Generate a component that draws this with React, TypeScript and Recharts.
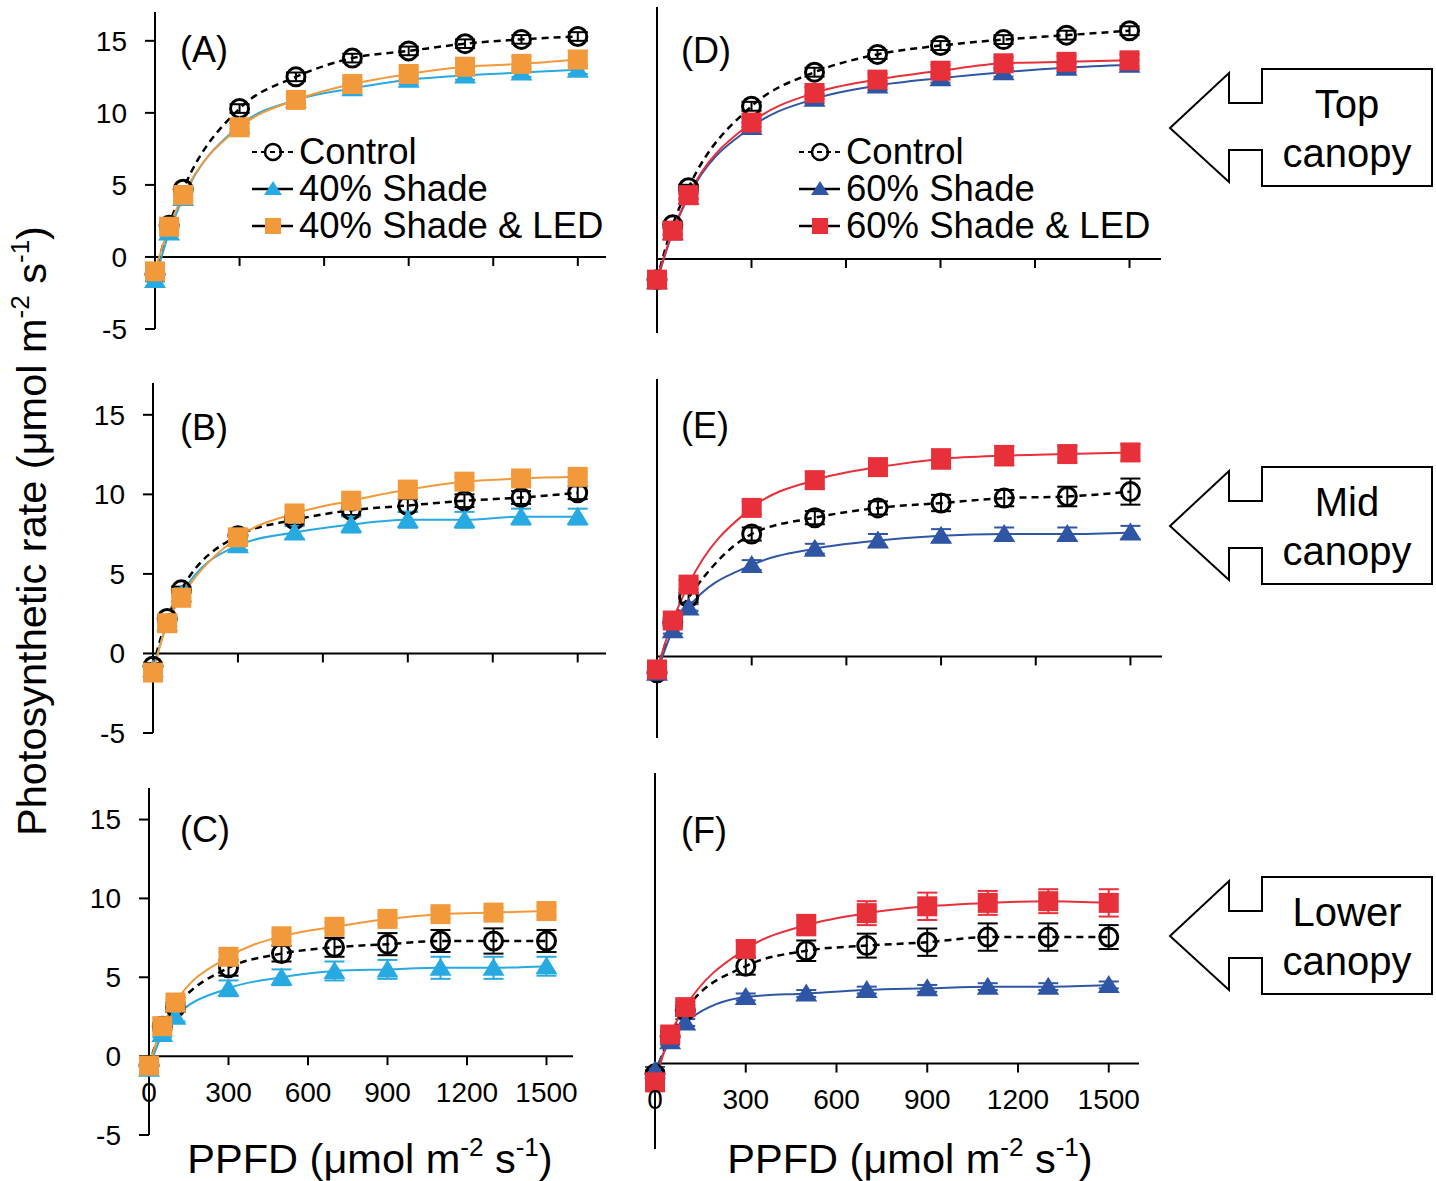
import React from 'react'
import { ComposedChart, Line, XAxis, YAxis, ReferenceLine, ErrorBar } from 'recharts'

const FONT = '"Liberation Sans", Arial, Helvetica, sans-serif'

const PPFD = [0, 50, 100, 300, 500, 700, 900, 1100, 1300, 1500]
const X_TICKS = [0, 300, 600, 900, 1200, 1500]
const Y_TICKS = [-5, 0, 5, 10, 15]

// (A) top canopy, 40% shade
const A_CONTROL = [-1.2, 2.2, 4.7, 10.3, 12.5, 13.8, 14.3, 14.8, 15.1, 15.3]
const A_CONTROL_ERR = [0.2, 0.2, 0.2, 0.3, 0.3, 0.3, 0.3, 0.3, 0.3, 0.3]
const A_SHADE = [-1.6, 1.7, 4.1, 9.1, 10.9, 11.7, 12.3, 12.6, 12.8, 13.0]
const A_SHADE_ERR = [0.1, 0.2, 0.2, 0.2, 0.2, 0.3, 0.3, 0.3, 0.3, 0.3]
const A_LED = [-1.0, 2.1, 4.3, 9.0, 10.9, 12.0, 12.7, 13.2, 13.4, 13.7]
const A_LED_ERR = [0.2, 0.2, 0.2, 0.3, 0.3, 0.4, 0.4, 0.5, 0.5, 0.6]

// (B) mid canopy, 40% shade
const B_CONTROL = [-0.8, 2.2, 4.0, 7.4, 8.4, 9.0, 9.3, 9.6, 9.8, 10.1]
const B_CONTROL_ERR = [0.2, 0.2, 0.2, 0.3, 0.3, 0.3, 0.4, 0.4, 0.4, 0.4]
const B_SHADE = [-1.0, 1.9, 3.7, 6.8, 7.6, 8.1, 8.4, 8.4, 8.6, 8.6]
const B_SHADE_ERR = [0.2, 0.2, 0.2, 0.3, 0.4, 0.5, 0.5, 0.5, 0.5, 0.5]
const B_LED = [-1.2, 1.9, 3.5, 7.3, 8.8, 9.6, 10.3, 10.8, 11.0, 11.1]
const B_LED_ERR = [0.2, 0.2, 0.2, 0.3, 0.3, 0.3, 0.3, 0.3, 0.3, 0.3]

// (C) lower canopy, 40% shade
const C_CONTROL = [-0.6, 1.9, 3.1, 5.6, 6.5, 6.9, 7.1, 7.3, 7.3, 7.3]
const C_CONTROL_ERR = [0.2, 0.2, 0.3, 0.5, 0.5, 0.6, 0.7, 0.7, 0.8, 0.7]
const C_SHADE = [-0.8, 1.4, 2.5, 4.3, 5.0, 5.4, 5.5, 5.6, 5.6, 5.7]
const C_SHADE_ERR = [0.2, 0.2, 0.3, 0.5, 0.5, 0.6, 0.6, 0.7, 0.7, 0.6]
const C_LED = [-0.6, 1.9, 3.4, 6.3, 7.6, 8.2, 8.7, 9.0, 9.1, 9.2]
const C_LED_ERR = [0.2, 0.2, 0.2, 0.3, 0.3, 0.3, 0.3, 0.3, 0.3, 0.3]

// (D) top canopy, 60% shade
const D_CONTROL = [-1.4, 2.3, 4.8, 10.3, 12.6, 13.8, 14.4, 14.8, 15.1, 15.4]
const D_CONTROL_ERR = [0.2, 0.2, 0.2, 0.3, 0.3, 0.3, 0.3, 0.3, 0.3, 0.3]
const D_SHADE = [-1.5, 1.8, 4.2, 8.9, 10.8, 11.7, 12.2, 12.6, 12.9, 13.1]
const D_SHADE_ERR = [0.2, 0.2, 0.2, 0.3, 0.3, 0.3, 0.3, 0.3, 0.3, 0.3]
const D_LED = [-1.4, 1.9, 4.3, 9.2, 11.2, 12.1, 12.7, 13.2, 13.3, 13.4]
const D_LED_ERR = [0.2, 0.2, 0.2, 0.3, 0.4, 0.4, 0.4, 0.4, 0.4, 0.4]

// (E) mid canopy, 60% shade
const E_CONTROL = [-1.0, 2.1, 3.6, 7.5, 8.5, 9.1, 9.4, 9.7, 9.8, 10.1]
const E_CONTROL_ERR = [0.2, 0.2, 0.3, 0.4, 0.4, 0.4, 0.5, 0.5, 0.6, 0.8]
const E_SHADE = [-1.0, 1.6, 3.0, 5.6, 6.6, 7.1, 7.4, 7.5, 7.5, 7.6]
const E_SHADE_ERR = [0.2, 0.2, 0.2, 0.3, 0.3, 0.4, 0.4, 0.4, 0.4, 0.4]
const E_LED = [-0.8, 2.2, 4.4, 9.1, 10.8, 11.6, 12.1, 12.3, 12.4, 12.5]
const E_LED_ERR = [0.2, 0.2, 0.3, 0.4, 0.5, 0.5, 0.6, 0.6, 0.5, 0.5]

// (F) lower canopy, 60% shade
const F_CONTROL = [-0.6, 1.6, 3.1, 5.7, 6.6, 6.9, 7.1, 7.4, 7.4, 7.4]
const F_CONTROL_ERR = [0.2, 0.3, 0.3, 0.5, 0.6, 0.7, 0.8, 0.8, 0.8, 0.7]
const F_SHADE = [-0.4, 1.3, 2.4, 3.9, 4.1, 4.3, 4.4, 4.5, 4.5, 4.6]
const F_SHADE_ERR = [0.2, 0.2, 0.2, 0.2, 0.2, 0.2, 0.2, 0.2, 0.2, 0.2]
const F_LED = [-1.1, 1.7, 3.3, 6.7, 8.1, 8.8, 9.2, 9.4, 9.5, 9.4]
const F_LED_ERR = [0.2, 0.3, 0.3, 0.5, 0.6, 0.7, 0.8, 0.7, 0.7, 0.8]

const CYAN = '#27a9e1'
const ORANGE = '#f29a3b'
const BLUE = '#2f55a5'
const RED = '#e7303a'

const Y_W = 100
const X_H = 30
const M = { top: 20, right: 20, bottom: 20 }

type PanelCfg = {
  left: number
  top: number
  right: number
  bottom: number
  control: number[]
  controlErr: number[]
  shade: number[]
  shadeErr: number[]
  led: number[]
  ledErr: number[]
  shadeColor: string
  ledColor: string
  yLabels: boolean
  xLabels: boolean
}

const PANELS: PanelCfg[] = [
  { left: 155, top: 12, right: 606, bottom: 329, control: A_CONTROL, controlErr: A_CONTROL_ERR, shade: A_SHADE, shadeErr: A_SHADE_ERR, led: A_LED, ledErr: A_LED_ERR, shadeColor: CYAN, ledColor: ORANGE, yLabels: true, xLabels: false },
  { left: 153, top: 383, right: 606, bottom: 733, control: B_CONTROL, controlErr: B_CONTROL_ERR, shade: B_SHADE, shadeErr: B_SHADE_ERR, led: B_LED, ledErr: B_LED_ERR, shadeColor: CYAN, ledColor: ORANGE, yLabels: true, xLabels: false },
  { left: 149, top: 788, right: 573, bottom: 1135, control: C_CONTROL, controlErr: C_CONTROL_ERR, shade: C_SHADE, shadeErr: C_SHADE_ERR, led: C_LED, ledErr: C_LED_ERR, shadeColor: CYAN, ledColor: ORANGE, yLabels: true, xLabels: true },
  { left: 657, top: 7, right: 1161, bottom: 333, control: D_CONTROL, controlErr: D_CONTROL_ERR, shade: D_SHADE, shadeErr: D_SHADE_ERR, led: D_LED, ledErr: D_LED_ERR, shadeColor: BLUE, ledColor: RED, yLabels: false, xLabels: false },
  { left: 657, top: 379, right: 1162, bottom: 738, control: E_CONTROL, controlErr: E_CONTROL_ERR, shade: E_SHADE, shadeErr: E_SHADE_ERR, led: E_LED, ledErr: E_LED_ERR, shadeColor: BLUE, ledColor: RED, yLabels: false, xLabels: false },
  { left: 655, top: 773, right: 1139, bottom: 1149, control: F_CONTROL, controlErr: F_CONTROL_ERR, shade: F_SHADE, shadeErr: F_SHADE_ERR, led: F_LED, ledErr: F_LED_ERR, shadeColor: BLUE, ledColor: RED, yLabels: false, xLabels: true },
]

const circleDot = (p: any) => (
  <circle key={p.index} cx={p.cx} cy={p.cy} r={9} fill="none" stroke="#000" strokeWidth={3} />
)

const triangleDot = (color: string) => (p: any) => (
  <path key={p.index} d={`M${p.cx},${p.cy - 10} L${p.cx + 11},${p.cy + 8} L${p.cx - 11},${p.cy + 8} Z`} fill={color} />
)

const squareDot = (color: string) => (p: any) => (
  <rect key={p.index} x={p.cx - 10} y={p.cy - 10} width={20} height={20} fill={color} />
)

function Panel({ cfg }: { cfg: PanelCfg }) {
  const plotW = cfg.right - cfg.left
  const plotH = cfg.bottom - cfg.top
  const zeroUp = (plotH * 5) / 22
  const data = PPFD.map((x, i) => ({
    x,
    c: cfg.control[i],
    ce: cfg.controlErr[i],
    s: cfg.shade[i],
    se: cfg.shadeErr[i],
    l: cfg.led[i],
    le: cfg.ledErr[i],
  }))

  // ticks sit on the zero line, not on the bottom edge of the plot
  const XTick = (p: any) => {
    const y0 = p.y - zeroUp
    return (
      <g>
        {p.payload.value > 0 && (
          <line x1={p.x} x2={p.x} y1={y0} y2={y0 + 9} stroke="#000" strokeWidth={2} />
        )}
        {cfg.xLabels && (
          <text x={p.x} y={y0 + 36} dy="0.355em" textAnchor="middle" fontSize={28} fontFamily={FONT} fill="#000">
            {p.payload.value}
          </text>
        )}
      </g>
    )
  }

  return (
    <div style={{ position: 'absolute', left: cfg.left - Y_W, top: cfg.top - M.top }}>
      <ComposedChart
        width={Y_W + plotW + M.right}
        height={M.top + plotH + X_H + M.bottom}
        data={data}
        margin={{ top: M.top, right: M.right, bottom: M.bottom, left: 0 }}
      >
        <XAxis
          dataKey="x"
          type="number"
          domain={[0, 1600]}
          ticks={X_TICKS}
          interval={0}
          height={X_H}
          axisLine={false}
          tickLine={false}
          tickSize={0}
          tickMargin={0}
          tick={XTick}
        />
        <YAxis
          type="number"
          domain={[-5, 17]}
          ticks={Y_TICKS}
          interval={0}
          width={Y_W}
          axisLine={{ stroke: '#000', strokeWidth: 2 }}
          tickLine={{ stroke: '#000', strokeWidth: 2 }}
          tickSize={10}
          tickMargin={18}
          tick={cfg.yLabels ? { fill: '#000', fontSize: 28, fontFamily: FONT } : false}
        />
        <ReferenceLine y={0} stroke="#000" strokeWidth={2} />
        <Line
          dataKey="c"
          type="monotone"
          stroke="#000"
          strokeWidth={2.5}
          strokeDasharray="7 5"
          dot={circleDot}
          isAnimationActive={false}
        >
          <ErrorBar dataKey="ce" direction="y" width={10} stroke="#000" strokeWidth={2} />
        </Line>
        <Line
          dataKey="s"
          type="monotone"
          stroke={cfg.shadeColor}
          strokeWidth={2}
          dot={triangleDot(cfg.shadeColor)}
          isAnimationActive={false}
        >
          <ErrorBar dataKey="se" direction="y" width={10} stroke={cfg.shadeColor} strokeWidth={2} />
        </Line>
        <Line
          dataKey="l"
          type="monotone"
          stroke={cfg.ledColor}
          strokeWidth={2}
          dot={squareDot(cfg.ledColor)}
          isAnimationActive={false}
        >
          <ErrorBar dataKey="le" direction="y" width={10} stroke={cfg.ledColor} strokeWidth={2} />
        </Line>
      </ComposedChart>
    </div>
  )
}

const PANEL_LABELS = ['(A)', '(B)', '(C)', '(D)', '(E)', '(F)']
const PANEL_LABEL_POS = [
  [180, 62], [180, 440], [180, 842],
  [681, 63], [681, 438], [681, 843],
]

const LEGEND_A = ['Control', '40% Shade', '40% Shade & LED']
const LEGEND_D = ['Control', '60% Shade', '60% Shade & LED']

function LegendBlock({ x, y, names, shadeColor, ledColor }: { x: number; y: number; names: string[]; shadeColor: string; ledColor: string }) {
  // x: left end of the icon, y: centre of the first row
  const step = 37
  const ix = x + 21
  return (
    <g>
      <line x1={x} x2={x + 41} y1={y} y2={y} stroke="#000" strokeWidth={2} strokeDasharray="5 4" />
      <circle cx={ix} cy={y} r={8} fill="none" stroke="#000" strokeWidth={2.5} />
      <line x1={x} x2={x + 41} y1={y + step} y2={y + step} stroke="#000" strokeWidth={2.5} />
      <path d={`M${ix},${y + step - 8} L${ix + 9},${y + step + 6} L${ix - 9},${y + step + 6} Z`} fill={shadeColor} />
      <line x1={x} x2={x + 41} y1={y + 2 * step} y2={y + 2 * step} stroke="#000" strokeWidth={2.5} />
      <rect x={ix - 8} y={y + 2 * step - 8} width={16} height={16} fill={ledColor} />
      {names.map((n, i) => (
        <text key={n} x={x + 47} y={y + i * step + 12} fontSize={36.5} fontFamily={FONT} fill="#000">
          {n}
        </text>
      ))}
    </g>
  )
}

const ARROW_TOPS = [69, 467, 877]
const ARROW_TEXT = ['Top', 'Mid', 'Lower']

function Arrow({ t, word }: { t: number; word: string }) {
  const pts = [
    [1170, t + 59], [1229, t + 4], [1229, t + 34], [1262, t + 34], [1262, t],
    [1432, t], [1432, t + 117], [1262, t + 117], [1262, t + 81], [1229, t + 81], [1229, t + 113],
  ]
  return (
    <g>
      <polygon points={pts.map((p) => p.join(',')).join(' ')} fill="#fff" stroke="#000" strokeWidth={2} />
      <text x={1347} y={t + 49} textAnchor="middle" fontSize={40} fontFamily={FONT} fill="#000">{word}</text>
      <text x={1347} y={t + 98} textAnchor="middle" fontSize={40} fontFamily={FONT} fill="#000">canopy</text>
    </g>
  )
}

function Unit() {
  return (
    <>
      (μmol m<tspan dy={-17} fontSize={26}>-2</tspan>
      <tspan dy={17}> s</tspan>
      <tspan dy={-17} fontSize={26}>-1</tspan>
      <tspan dy={17}>)</tspan>
    </>
  )
}

export default function App() {
  return (
    <div style={{ position: 'absolute', left: 0, top: 0, width: 1436, height: 1181, background: '#fff', overflow: 'hidden' }}>
      {PANELS.map((cfg, i) => (
        <Panel key={i} cfg={cfg} />
      ))}
      <svg width={1436} height={1181} style={{ position: 'absolute', left: 0, top: 0, pointerEvents: 'none' }}>
        {PANEL_LABELS.map((l, i) => (
          <text key={l} x={PANEL_LABEL_POS[i][0]} y={PANEL_LABEL_POS[i][1]} fontSize={36} fontFamily={FONT} fill="#000">
            {l}
          </text>
        ))}
        <LegendBlock x={252} y={152} names={LEGEND_A} shadeColor={CYAN} ledColor={ORANGE} />
        <LegendBlock x={799} y={152} names={LEGEND_D} shadeColor={BLUE} ledColor={RED} />
        {ARROW_TOPS.map((t, i) => (
          <Arrow key={t} t={t} word={ARROW_TEXT[i]} />
        ))}
        <text transform="translate(46,531) rotate(-90)" textAnchor="middle" fontSize={41.5} fontFamily={FONT} fill="#000">
          Photosynthetic rate <Unit />
        </text>
        <text x={370} y={1173} textAnchor="middle" fontSize={41.5} fontFamily={FONT} fill="#000">
          PPFD <Unit />
        </text>
        <text x={910} y={1173} textAnchor="middle" fontSize={41.5} fontFamily={FONT} fill="#000">
          PPFD <Unit />
        </text>
      </svg>
    </div>
  )
}
